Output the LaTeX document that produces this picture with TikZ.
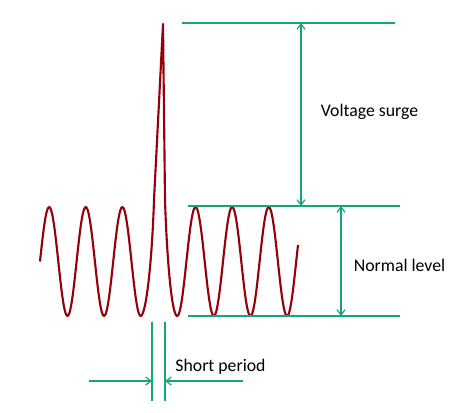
\documentclass[tikz,border=0pt]{standalone}
\usepackage{fontspec}
\setmainfont{Carlito}
\usetikzlibrary{arrows.meta}
\definecolor{wavered}{RGB}{150,0,10}
\definecolor{dimgreen}{RGB}{20,165,120}
\tikzset{
  wave/.style={color=wavered,line width=1.6pt,line join=round},
  dimline/.style={color=dimgreen,line width=0.9pt},
  dimarrow/.style={dimline,{Straight Barb[length=4pt,width=6pt]}-{Straight Barb[length=4pt,width=6pt]}},
  dimhead/.style={dimline,-{Straight Barb[length=4pt,width=6pt]}},
  lbl/.style={font=\fontsize{13.3}{16}\selectfont,inner sep=0pt}
}
\begin{document}
\begin{tikzpicture}[x=0.75pt,y=0.75pt,yscale=-1]
        \useasboundingbox (0,0) rectangle (456,413);
        % signal with surge
        \draw [wave] plot [domain=40:140.6,samples=90,smooth] (\x,{261.5-54.5*sin((\x-40)*9.836)})
              .. controls (146,316) and (152,262) .. (154,200) -- (163,24) -- (165,200)
              .. controls (167,262) and (172,316) .. (177.2,316)
              -- plot [domain=177.2:298,samples=100,smooth] (\x,{261.5-54.5*sin((\x-40)*9.836)});
        % reference levels
        \coordinate (topL) at (182,23);
        \coordinate (topR) at (395,23);
        \coordinate (midL) at (188,206);
        \coordinate (midR) at (400,206);
        \coordinate (lowL) at (188,316);
        \coordinate (lowR) at (400,316);
        \draw [dimline] (topL) -- (topR);
        \draw [dimline] (midL) -- (midR);
        \draw [dimline] (lowL) -- (lowR);
        \coordinate (surgeT) at (301,23);
        \coordinate (surgeB) at (301,206);
        \coordinate (normT) at (341,206);
        \coordinate (normB) at (341,316);
        \draw [dimarrow] (surgeT) -- (surgeB);
        \draw [dimarrow] (normT) -- (normB);
        % short period
        \coordinate (perLT) at (152,322);
        \coordinate (perLB) at (152,401);
        \coordinate (perRT) at (165,322);
        \coordinate (perRB) at (165,401);
        \draw [dimline] (perLT) -- (perLB);
        \draw [dimline] (perRT) -- (perRB);
        \coordinate (inL) at (89,381);
        \coordinate (inR) at (243,381);
        \draw [dimhead] (inL) -- (perLB |- inL);
        \draw [dimhead] (inR) -- (perRB |- inR);
        % labels
        \draw (369.5,112) node [lbl] (surge) {Voltage surge};
        \draw (399.5,265) node [lbl] (normal) {Normal level};
        \draw (220.5,367) node [lbl] (period) {Short period};
\end{tikzpicture}
\end{document}
